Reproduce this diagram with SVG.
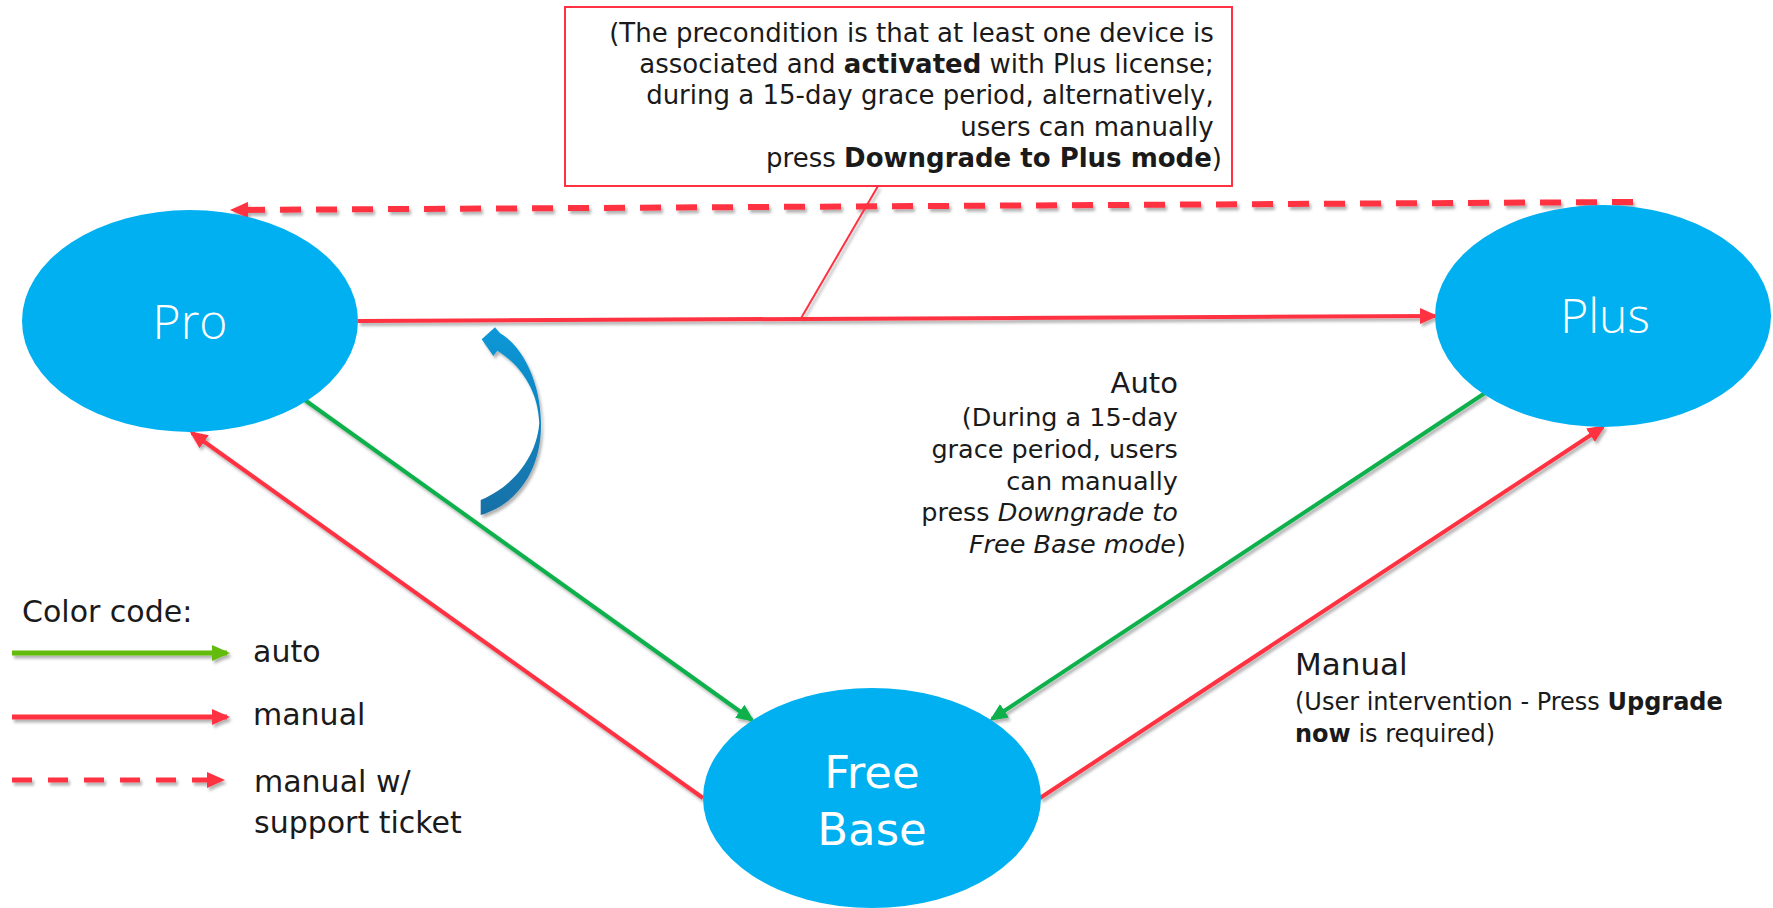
<svg xmlns="http://www.w3.org/2000/svg" width="1773" height="908" viewBox="0 0 1773 908">
  <style>
    .node { fill: #00B0F0; }
    .nlabel { fill: #ffffff; font-family: "Open Sans", "Noto Sans", sans-serif; font-weight: 300; font-size: 48px; text-anchor: middle; }
    .flabel { fill: #ffffff; font-family: "DejaVu Sans", sans-serif; font-size: 45px; text-anchor: middle; }
    .txt { fill: #1a1a1a; font-family: "DejaVu Sans", sans-serif; font-size: 24px; }
    .note { font-size: 26px; }
    .side { font-size: 25.5px; }
    .lg { font-size: 30px; }
    .b { font-weight: bold; }
    .i { font-style: italic; }
    .red { stroke: #FF3142; stroke-width: 4; fill: none; }
    .green { stroke: #0DB04B; stroke-width: 4; fill: none; }
    .lgreen { stroke: #62BB0A; stroke-width: 5; fill: none; }
    .dash { stroke-dasharray: 21 15; stroke-width: 6; }
  </style>
  <defs>
    <marker id="ar" markerUnits="userSpaceOnUse" markerWidth="18" markerHeight="16" refX="15" refY="8" orient="auto">
      <path d="M0,0 L18,8 L0,16 z" fill="#FF3142"/>
    </marker>
    <marker id="ag" markerUnits="userSpaceOnUse" markerWidth="18" markerHeight="16" refX="15" refY="8" orient="auto">
      <path d="M0,0 L18,8 L0,16 z" fill="#0DB04B"/>
    </marker>
    <marker id="alg" markerUnits="userSpaceOnUse" markerWidth="18" markerHeight="16" refX="15" refY="8" orient="auto">
      <path d="M0,0 L18,8 L0,16 z" fill="#62BB0A"/>
    </marker>
    <filter id="sh" x="-10%" y="-10%" width="120%" height="120%">
      <feDropShadow dx="2" dy="3" stdDeviation="1.5" flood-color="#000" flood-opacity="0.3"/>
    </filter>
    <linearGradient id="blueg" x1="0" y1="0" x2="0" y2="1">
      <stop offset="0" stop-color="#0E98D8"/>
      <stop offset="1" stop-color="#1470A6"/>
    </linearGradient>
  </defs>

  <!-- callout box -->
  <g id="note">
    <rect x="565" y="7" width="667" height="179" fill="#ffffff" stroke="#FF3142" stroke-width="2"/>
    <text class="txt note" text-anchor="end">
      <tspan x="1222" y="42">(The precondition is that at least one device is</tspan>
      <tspan x="1222" y="73">associated and <tspan class="b">activated</tspan> with Plus license;</tspan>
      <tspan x="1222" y="104">during a 15-day grace period, alternatively,</tspan>
      <tspan x="1222" y="136">users can manually</tspan>
      <tspan x="1222" y="167">press <tspan class="b">Downgrade to Plus mode</tspan>)</tspan>
    </text>
  </g>

  <!-- connectors -->
  <g id="connectors" filter="url(#sh)">
    <line class="red dash" x1="1633" y1="202" x2="233" y2="210" marker-end="url(#ar)"/>
    <line class="red" x1="358" y1="321" x2="1435" y2="316" marker-end="url(#ar)"/>
    <line class="green" x1="302" y1="398" x2="752" y2="720" marker-end="url(#ag)"/>
    <line class="green" x1="1485" y1="393" x2="992" y2="719" marker-end="url(#ag)"/>
    <line class="red" x1="703" y1="798" x2="192" y2="433" marker-end="url(#ar)"/>
    <line class="red" x1="1040" y1="798" x2="1603" y2="427" marker-end="url(#ar)"/>
    <line x1="878" y1="186" x2="800" y2="320" stroke="#FF3142" stroke-width="2"/>
    <path d="M480.7,500 C513.3,486.7 536.7,456.7 539.3,423.3 C538.3,393.3 523.3,366.7 497.3,350.7 L493.3,356 L481.7,339.3 L495,327.3 L500,333.3 C523.3,346.7 540.7,383.3 541,423.3 C541.7,466.7 520,503.3 480.7,515 Z" fill="url(#blueg)"/>
  </g>

  <!-- nodes -->
  <g id="pro">
    <ellipse class="node" cx="190" cy="321" rx="168" ry="111"/>
    <text class="nlabel" x="190" y="339">Pro</text>
  </g>
  <g id="plus">
    <ellipse class="node" cx="1603" cy="316" rx="168" ry="111"/>
    <text class="nlabel" x="1605" y="333">Plus</text>
  </g>
  <g id="freebase">
    <ellipse class="node" cx="872" cy="798" rx="169" ry="110"/>
    <text class="flabel" x="872" y="788">Free</text>
    <text class="flabel" x="872" y="845">Base</text>
  </g>

  <!-- labels -->
  <g id="auto-label">
    <text class="txt side" text-anchor="end">
      <tspan x="1186" y="393" font-size="29">Auto</tspan>
      <tspan x="1186" y="426">(During a 15-day</tspan>
      <tspan x="1186" y="458">grace period, users</tspan>
      <tspan x="1186" y="490">can manually</tspan>
      <tspan x="1186" y="521">press <tspan class="i">Downgrade to</tspan></tspan>
      <tspan x="1186" y="553"><tspan class="i">Free Base mode</tspan>)</tspan>
    </text>
  </g>
  <g id="manual-label">
    <text class="txt">
      <tspan x="1295" y="675" font-size="31">Manual</tspan>
      <tspan x="1295" y="710">(User intervention - Press <tspan class="b">Upgrade</tspan></tspan>
      <tspan x="1295" y="742"><tspan class="b">now</tspan> is required)</tspan>
    </text>
  </g>

  <!-- legend -->
  <g id="legend">
    <text class="txt lg" x="22" y="622">Color code:</text>
    <g filter="url(#sh)">
      <line class="lgreen" x1="12" y1="653" x2="227" y2="653" marker-end="url(#alg)"/>
      <line class="red" style="stroke-width:5" x1="12" y1="717" x2="227" y2="717" marker-end="url(#ar)"/>
      <line class="red dash" style="stroke-width:5;stroke-dasharray:20 16" x1="12" y1="780" x2="222" y2="780" marker-end="url(#ar)"/>
    </g>
    <text class="txt lg" x="253" y="662">auto</text>
    <text class="txt lg" x="253" y="725">manual</text>
    <text class="txt lg" x="254" y="792">manual w/</text>
    <text class="txt lg" x="254" y="833">support ticket</text>
  </g>
</svg>
